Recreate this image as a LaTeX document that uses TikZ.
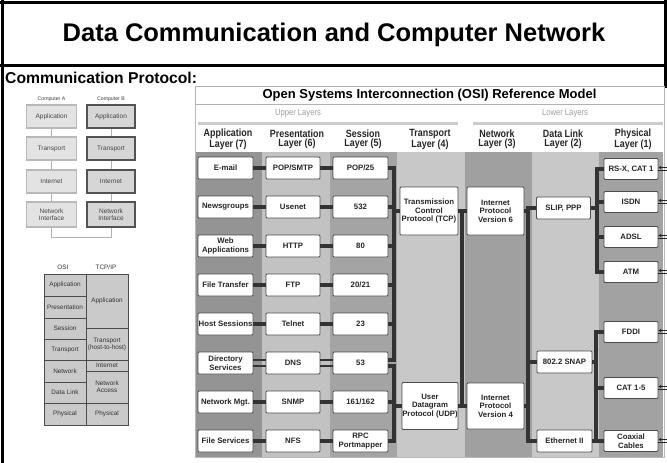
\documentclass[tikz,border=0pt]{standalone}
\usepackage{fontspec}
\setmainfont{Liberation Sans}
\newfontfamily\cond[FakeStretch=0.85]{Liberation Sans}
\usetikzlibrary{arrows.meta,calc}
\definecolor{colA}{HTML}{949494}
\definecolor{colP}{HTML}{C2C2C2}
\definecolor{colS}{HTML}{A4A4A4}
\definecolor{colT}{HTML}{C8C8C8}
\definecolor{colN}{HTML}{A0A0A0}
\definecolor{colD}{HTML}{C8C8C8}
\definecolor{colPh}{HTML}{A2A2A2}
\definecolor{busc}{HTML}{333333}
\definecolor{tblf}{HTML}{CACACA}
\begin{document}
\begin{tikzpicture}[x=1pt,y=-1pt,
  pbox/.style={draw=black!70,line width=0.9pt,fill=white,rounded corners=1pt,inner sep=0pt,align=center,
    font=\bfseries\fontsize{7.8}{8.6}\selectfont,text=black!85,minimum height=22pt},
  hdr/.style={font=\cond\bfseries\fontsize{10.5}{9.5}\selectfont,align=center,text=black!85,inner sep=0pt},
  conn/.style={line width=3.2pt,draw=busc},
  conn2/.style={line width=2.4pt,draw=busc},
  arr/.style={-{Stealth[length=3pt,width=3.5pt]},line width=0.8pt,draw=black!85},
  lbox/.style={draw=gray!55,line width=1.1pt,fill=gray!22,inner sep=0pt,align=center,
    font=\fontsize{6.5}{7}\selectfont,text=gray!55!black,minimum width=50pt,minimum height=23pt},
  lboxB/.style={lbox,draw=gray!65!black,fill=gray!32},
  tcell/.style={draw=gray!60!black,line width=1pt,fill=tblf},
  ttext/.style={font=\fontsize{6.4}{7}\selectfont,text=gray!40!black,align=center,inner sep=0pt}
]
\useasboundingbox (0,0) rectangle (667,463);
\fill[white] (0,0) rectangle (667,463);
% slide frame
\draw[line width=3pt] (0,2) -- (667,2);
\draw[line width=3pt] (2.5,0) -- (2.5,463);
\draw[line width=3pt] (665.5,0) -- (665.5,88);
\draw[line width=3pt] (0,65) -- (667,65);
\node[font=\bfseries\fontsize{25.5}{28}\selectfont,inner sep=0pt] (title) at (334,35) {Data Communication and Computer Network};
\node[font=\bfseries\fontsize{15.7}{17}\selectfont,anchor=west,inner sep=0pt] (sub) at (5,77.5) {Communication Protocol:};

% ---------- left: computer A / B ----------
\node[font=\fontsize{5.2}{6}\selectfont,text=gray!50!black] (ca) at (51.5,99) {Computer A};
\node[font=\fontsize{5.2}{6}\selectfont,text=gray!50!black] (cb) at (111,99) {Computer B};
\node[lbox] (a1) at (51.5,116.5) {Application};
\node[lbox] (a2) at (51.5,148.5) {Transport};
\node[lbox] (a3) at (51.5,181.5) {Internet};
\node[lbox,minimum height=25pt] (a4) at (51.5,214.5) {Network\\Interface};
\node[lboxB,minimum width=48pt] (b1) at (111,116.5) {Application};
\node[lboxB,minimum width=48pt] (b2) at (111,148.5) {Transport};
\node[lboxB,minimum width=48pt] (b3) at (111,181.5) {Internet};
\node[lboxB,minimum width=48pt,minimum height=25pt] (b4) at (111,214.5) {Network\\Interface};
\begin{scope}[draw=gray!60,line width=0.8pt]
\draw (a1) -- (a2); \draw (a2) -- (a3); \draw (a3) -- (a4);
\draw (b1) -- (b2); \draw (b2) -- (b3); \draw (b3) -- (b4);
\coordinate (lk) at (0,237);
\draw (a4.south) -- (a4.south |- lk) -- (b4.south |- lk) -- (b4.south);
\end{scope}

% ---------- left: OSI vs TCP/IP table ----------
\node[ttext] (osi) at (63,267) {OSI};
\node[ttext] (tcpip) at (106,267) {TCP/IP};
\foreach \ya/\yb/\t [count=\i] in {274/296/Application,296/318/Presentation,318/339/Session,339/360/Transport,360/382/Network,382/403/Data Link,403/425/Physical}{
  \draw[tcell] (44,\ya) rectangle (86,\yb);
  \node[ttext] (o\i) at (65,{(\ya+\yb)/2}) {\t};
}
\draw[tcell] (86,274) rectangle (128,328); \node[ttext] (t1) at (107,301) {Application};
\draw[tcell] (86,328) rectangle (128,360); \node[ttext] (t2) at (107,344) {Transport\\(host-to-host)};
\draw[tcell] (86,360) rectangle (128,371); \node[ttext] (t3) at (107,365.5) {Internet};
\draw[tcell] (86,371) rectangle (128,403); \node[ttext] (t4) at (107,387) {Network\\Access};
\draw[tcell] (86,403) rectangle (128,425); \node[ttext] (t5) at (107,414) {Physical};

% ---------- OSI reference model ----------
\fill[colA] (195,152) rectangle (262,457);
\fill[colP] (262,152) rectangle (330,457);
\fill[colS] (330,152) rectangle (397,457);
\fill[colT] (397,152) rectangle (465,457);
\fill[colN] (465,152) rectangle (532,457);
\fill[colD] (532,152) rectangle (599,457);
\fill[colPh] (599,152) rectangle (663,457);
\draw[gray!55,line width=0.6pt] (195,86) rectangle (664,457);
\node[draw=gray!60,line width=0.8pt,fill=white,minimum width=469pt,minimum height=18pt,inner sep=0pt,
  font=\bfseries\fontsize{13}{14}\selectfont] (osititle) at (429.5,95) {Open Systems Interconnection (OSI) Reference Model};
\node[font=\cond\fontsize{9}{10}\selectfont,text=gray!75] (upper) at (298,113) {Upper Layers};
\node[font=\cond\fontsize{9}{10}\selectfont,text=gray!75] (lower) at (565,113) {Lower Layers};
\draw[line width=3pt,draw=gray!40] (198,123) -- (458,123);
\draw[line width=3pt,draw=gray!40] (473,123) -- (663,123);
\node[hdr] (h7) at (228,139.5) {Application\\Layer (7)};
\node[hdr] (h6) at (297,139.5) {Presentation\\Layer (6)};
\node[hdr] (h5) at (363,139.5) {Session\\Layer (5)};
\node[hdr] (h4) at (430,139.5) {Transport\\Layer (4)};
\node[hdr] (h3) at (497,139.5) {Network\\Layer (3)};
\node[hdr] (h2) at (563,139.5) {Data Link\\Layer (2)};
\node[hdr] (h1) at (633,139.5) {Physical\\Layer (1)};

% upper layer boxes
\foreach \i/\y/\a/\p/\s in {1/168/E-mail/POP\slash SMTP/POP\slash 25,
  2/207/Newsgroups/Usenet/532,
  3/246/{Web\\Applications}/HTTP/80,
  4/285/File Transfer/FTP/20\slash 21,
  5/324/Host Sessions/Telnet/23,
  6/363/{Directory\\Services}/DNS/53,
  7/402/Network Mgt./SNMP/161\slash 162,
  8/441/File Services/NFS/{RPC\\Portmapper}}{
  \node[pbox,minimum width=55pt] (ap\i) at (225.5,\y) {\a};
  \node[pbox,minimum width=54pt] (pr\i) at (293,\y) {\p};
  \node[pbox,minimum width=55pt] (se\i) at (360.5,\y) {\s};
}
\foreach \i in {1,2,3,4,5,7,8}{
  \draw[conn] (ap\i.east) -- (pr\i.west);
  \draw[conn] (pr\i.east) -- (se\i.west);
}
\draw[conn2] ([yshift=3pt]ap6.east) -- ([yshift=3pt]pr6.west);
\draw[conn2] ([yshift=-3pt]ap6.east) -- ([yshift=-3pt]pr6.west);
\draw[conn2] ([yshift=3pt]pr6.east) -- ([yshift=3pt]se6.west);
\draw[conn2] ([yshift=-3pt]pr6.east) -- ([yshift=-3pt]se6.west);

% transport / network / data link boxes
\node[pbox,minimum width=58pt,minimum height=48pt] (tcp) at (429,211) {Transmission\\Control\\Protocol (TCP)};
\node[pbox,minimum width=56pt,minimum height=47pt] (udp) at (430,406) {User\\Datagram\\Protocol (UDP)};
\node[pbox,minimum width=57pt,minimum height=48pt] (ip6) at (495.5,211) {Internet\\Protocol\\Version 6};
\node[pbox,minimum width=57pt,minimum height=46pt] (ip4) at (495.5,406) {Internet\\Protocol\\Version 4};
\node[pbox,minimum width=54pt] (slip) at (563.5,208) {SLIP, PPP};
\node[pbox,minimum width=55pt] (snap) at (564.5,362) {802.2 SNAP};
\node[pbox,minimum width=55pt] (eth) at (564.5,441) {Ethernet II};

% physical boxes
\foreach \i/\y/\t in {1/169/{RS-X, CAT 1},2/202/ISDN,3/237/ADSL,4/272/ATM,5/332/FDDI,6/388/CAT 1-5,7/441/{Coaxial\\Cables}}{
  \node[pbox,minimum width=54pt,minimum height=21pt] (ph\i) at (631,\y) {\t};
}

% session -> transport buses
\coordinate (tb1) at (394,168);
\coordinate (tb2) at (394,360);
\coordinate (ub1) at (394,366);
\coordinate (ub2) at (394,441);
\draw[conn,line join=miter] (se1.east) -- (tb1) -- (tb2) -- ([yshift=3pt]se6.east);
\foreach \i in {2,3,4,5}{ \draw[conn] (se\i.east) -- (se\i.east -| tb1); }
\draw[conn] (tcp.west) -- (tcp.west -| tb1);
\draw[conn,line join=miter] ([yshift=-3pt]se6.east) -- (ub1) -- (ub2) -- (se8.east);
\draw[conn] (se7.east) -- (se7.east -| ub1);
\draw[conn] (udp.west) -- (udp.west -| ub1);

% transport -> network
\coordinate (nb1) at (462,209);
\coordinate (nb2) at (462,404);
\draw[conn] (nb1) -- (nb2);
\draw[conn] (tcp.east) -- (ip6.west);
\draw[conn] (udp.east) -- (ip4.west);

% network -> data link
\coordinate (db1) at (528,208);
\coordinate (db2) at (528,441);
\draw[conn,line join=miter] (slip.west) -- (db1) -- (db2) -- (eth.west);
\draw[conn] (ip6.east) -- (ip6.east -| db1);
\draw[conn] (ip4.east) -- (ip4.east -| db1);
\draw[conn] (snap.west) -- (snap.west -| db1);

% data link -> physical
\coordinate (pb1) at (597,169);
\coordinate (pb2) at (597,272);
\draw[conn,line join=miter] (ph1.west) -- (pb1) -- (pb2) -- (ph4.west);
\draw[conn] (ph2.west) -- (ph2.west -| pb1);
\draw[conn] (ph3.west) -- (ph3.west -| pb1);
\draw[conn] (slip.east) -- (slip.east -| pb1);
\coordinate (qb1) at (596,332);
\coordinate (qb2) at (596,441);
\draw[conn,line join=miter] (ph5.west) -- (qb1) -- (qb2) -- (ph7.west);
\draw[conn] (ph6.west) -- (ph6.west -| qb1);
\draw[conn] (snap.east) -- (snap.east -| qb1);
\draw[conn] (eth.east) -- (eth.east -| qb1);

% incoming arrows at the right edge
\coordinate (re) at (668,0);
\foreach \i in {1,...,7}{
  \draw[arr] ([yshift=1.5pt]ph\i.east -| re) -- ([yshift=1.5pt]ph\i.east);
  \draw[line width=0.8pt,draw=black!85] ([yshift=-1.5pt]ph\i.east -| re) -- ([yshift=-1.5pt]ph\i.east);
}
\end{tikzpicture}
\end{document}
